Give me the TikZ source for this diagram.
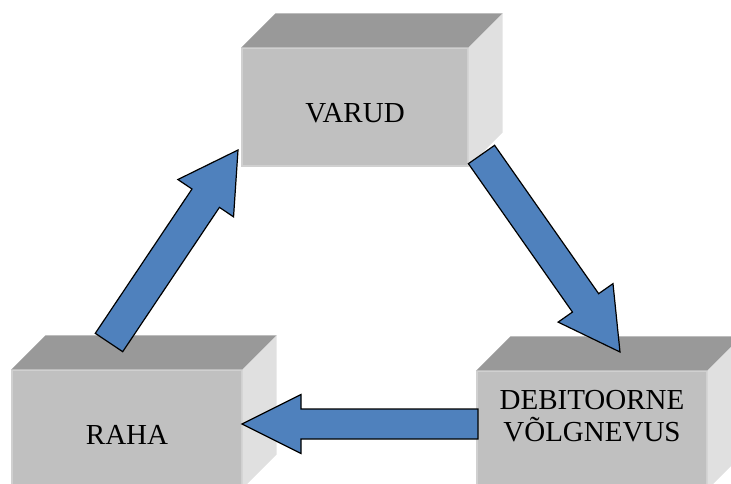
\documentclass[tikz,border=0pt]{standalone}
\usepackage{fontspec}
\setmainfont{Liberation Serif}
\usetikzlibrary{calc}

\definecolor{topface}{HTML}{999999}
\definecolor{frontface}{HTML}{C0C0C0}
\definecolor{frontedge}{HTML}{D0D0D0}
\definecolor{sideface}{HTML}{E0E0E0}
\definecolor{arrowblue}{HTML}{4F81BD}

\tikzset{
  frontbox/.style={fill=frontface, draw=frontedge, line width=1.2pt,
    minimum width=#1, minimum height=118pt, inner sep=0pt},
  boxlabel/.style={font=\fontsize{29}{32}\selectfont, text=black, align=center, inner sep=0pt},
  blockarrow/.style={fill=arrowblue, draw=black, line width=1.2pt, line join=miter},
}

% 3-D box: top and right faces attached to a front-face node
\newcommand\cubefaces[2]{% node name, depth
  \fill[topface] (#1.north west) -- ++(#2,-#2) -- ($(#1.north east)+(#2,-#2)$) -- (#1.north east) -- cycle;
  \fill[sideface] (#1.north east) -- ++(#2,-#2) -- ($(#1.south east)+(#2,-#2)$) -- (#1.south east) -- cycle;
}

% block arrow from #1 to #2: shaft half width #3, head half width #4, head length #5
\newcommand\cyclearrow[5]{%
  \coordinate (#1-#2-h) at ($(#2)!#5!(#1)$);
  \draw[blockarrow]
    ($(#1)!#3!90:(#2)$) -- ($(#1-#2-h)!#3!90:(#2)$) -- ($(#1-#2-h)!#4!90:(#2)$) --
    (#2) --
    ($(#1-#2-h)!#4!-90:(#2)$) -- ($(#1-#2-h)!#3!-90:(#2)$) -- ($(#1)!#3!-90:(#2)$) -- cycle;
}

\begin{document}
\begin{tikzpicture}[x=1pt, y=-1pt]
  \useasboundingbox (0,0) rectangle (731,484);
  \clip (0,0) rectangle (731,484);

  % boxes
  \node[frontbox=226pt] (varud) at (355,107) {};
  \cubefaces{varud}{34}
  \node[boxlabel] (varudtext) at ($(varud.center)+(0,6)$) {VARUD};

  \node[frontbox=230pt] (raha) at (127,429) {};
  \cubefaces{raha}{34}
  \node[boxlabel] (rahatext) at ($(raha.center)+(0,6)$) {RAHA};

  \node[frontbox=230pt] (deb) at (592,430) {};
  \cubefaces{deb}{34}
  \node[boxlabel] (debtext) at ($(deb.center)+(0,-14)$) {DEBITOORNE\\VÕLGNEVUS};

  % arrow ends
  \coordinate (rahaout) at (109,342.5);
  \coordinate (varudin) at (238,150);
  \coordinate (varudout) at (481.5,154.5);
  \coordinate (debin) at (620,352);
  \coordinate (debout) at (478,424);
  \coordinate (rahain) at (242,424);

  % cycle arrows
  \cyclearrow{rahaout}{varudin}{16.5pt}{33.5pt}{58pt}
  \cyclearrow{varudout}{debin}{16pt}{33.5pt}{60pt}
  \cyclearrow{debout}{rahain}{15pt}{29.5pt}{59pt}
\end{tikzpicture}
\end{document}
